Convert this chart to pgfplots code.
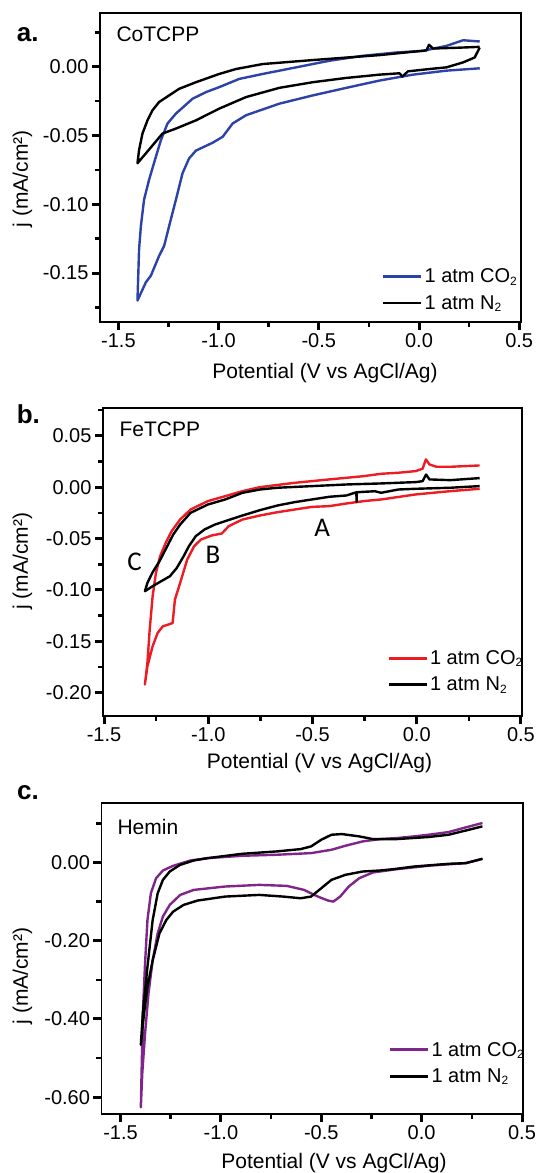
\documentclass[border=0pt]{standalone}
\usepackage{fontspec}
\setmainfont{Liberation Sans}
\newfontfamily\annfont{Carlito}
\usepackage{pgfplots}
\pgfplotsset{compat=1.18}

\definecolor{coblue}{RGB}{44,66,168}
\definecolor{fered}{RGB}{237,28,36}
\definecolor{hempurple}{RGB}{128,38,138}

\newcommand{\sub}[1]{\raisebox{-0.12em}{\fontsize{12}{13}\selectfont #1}}

\pgfplotsset{
  cv/.style={
    scale only axis,
    axis line style={line width=1.8pt},
    tick align=outside,
    xtick pos=bottom, ytick pos=left,
    major tick length=8pt, minor tick length=5pt,
    major tick style={line width=3pt, black},
    minor tick style={line width=2.6pt, black},
    xtick={-1.5,-1.0,-0.5,0,0.5},
    minor xtick={-1.25,-0.75,-0.25,0.25},
    scaled ticks=false,
    /pgf/number format/assume math mode=true,
    tick label style={font=\fontsize{20}{24}\selectfont},
    xticklabel style={/pgf/number format/.cd, fixed, fixed zerofill, precision=1},
    yticklabel style={/pgf/number format/.cd, fixed, fixed zerofill, precision=2},
    label style={font=\fontsize{21}{25}\selectfont},
    xlabel={Potential (V vs AgCl/Ag)},
    ylabel={j (mA/cm²)},
    legend cell align=left,
    legend style={draw=none, fill=none, font=\fontsize{20}{24}\selectfont,
      inner sep=0pt, row sep=7pt, anchor=south west},
    legend image code/.code={\draw[#1, line width=2.8pt] (0pt,0pt) -- (38pt,0pt);},
    every axis plot/.append style={line width=2.4pt, line join=round},
  }
}

\begin{document}
\begin{tikzpicture}[x=1pt,y=1pt]

% ---------- a. CoTCPP ----------
\begin{axis}[cv, at={(100pt,-13pt)}, anchor=north west,
  width=421pt, height=309pt,
  xmin=-1.592, xmax=0.509, ymin=-0.1856, ymax=0.039,
  ytick={-0.15,-0.10,-0.05,0},
  minor ytick={-0.175,-0.125,-0.075,-0.025,0.025},
  xlabel style={at={(rel axis cs:0.5,0)}, anchor=center, xshift=14.5pt, yshift=-51pt},
  ylabel style={at={([xshift=-77.5pt]rel axis cs:0,0.464)}, anchor=center},
  legend style={at={(rel axis cs:0.669,0.03)}},
]
\addplot[coblue] coordinates {
 (0.303,-0.0012) (0.137,-0.0029) (-0.03,-0.0058) (-0.197,-0.0101) (-0.363,-0.0154)
 (-0.53,-0.0209) (-0.697,-0.0269) (-0.863,-0.0353) (-0.93,-0.0413) (-0.98,-0.051)
 (-1.03,-0.0553) (-1.113,-0.061) (-1.147,-0.0666) (-1.18,-0.0774) (-1.213,-0.0966)
 (-1.247,-0.1159) (-1.272,-0.1303) (-1.297,-0.1375) (-1.338,-0.1519) (-1.363,-0.1567)
 (-1.405,-0.170)
 (-1.397,-0.1327) (-1.388,-0.1159) (-1.372,-0.0966) (-1.347,-0.0822) (-1.313,-0.0654)
 (-1.288,-0.0534) (-1.255,-0.0413) (-1.213,-0.0341) (-1.13,-0.0233) (-1.063,-0.0185)
 (-0.997,-0.0149) (-0.897,-0.0089) (-0.78,-0.0053) (-0.613,-0.0005) (-0.447,0.0043)
 (-0.28,0.0079) (-0.113,0.0103) (0.02,0.0115) (0.137,0.0151) (0.22,0.0192) (0.303,0.0183)
};
\addlegendentry{1 atm CO\sub{2}}
\addplot[black] coordinates {
 (0.303,0.0144) (0.2,0.0138) (0.07,0.0132) (0.05,0.0159) (0.037,0.0118) (-0.197,0.0084)
 (-0.53,0.0048) (-0.78,0.0019) (-0.913,-0.0017) (-0.997,-0.0053) (-1.113,-0.0113)
 (-1.197,-0.0161) (-1.297,-0.0257) (-1.33,-0.0317) (-1.355,-0.039) (-1.38,-0.0486)
 (-1.397,-0.0606) (-1.405,-0.0702)
 (-1.363,-0.063) (-1.28,-0.0486) (-1.213,-0.045) (-1.113,-0.039) (-0.997,-0.0305)
 (-0.863,-0.0221) (-0.697,-0.0154) (-0.53,-0.0113) (-0.363,-0.0082) (-0.197,-0.0058)
 (-0.097,-0.0048) (-0.083,-0.0072) (-0.055,-0.0034) (0.053,-0.0017) (0.137,-0.0005)
 (0.22,0.0031) (0.278,0.0067) (0.303,0.0139)
};
\addlegendentry{1 atm N\sub{2}}
\node[anchor=west, font=\fontsize{21}{25}\selectfont] at ([xshift=13pt,yshift=-21pt]rel axis cs:0,1) {CoTCPP};
\end{axis}

% ---------- b. FeTCPP ----------
\begin{axis}[cv, at={(103pt,-408pt)}, anchor=north west,
  width=419pt, height=308pt,
  xmin=-1.505, xmax=0.505, ymin=-0.2227, ymax=0.077,
  ytick={-0.20,-0.15,-0.10,-0.05,0,0.05},
  minor ytick={-0.175,-0.125,-0.075,-0.025,0.025,0.075},
  xlabel style={at={(rel axis cs:0.5,0)}, anchor=center, xshift=7pt, yshift=-47pt},
  ylabel style={at={([xshift=-80.5pt]rel axis cs:0,0.503)}, anchor=center},
  legend style={at={(rel axis cs:0.678,0.07)}},
]
\addplot[fered] coordinates {
 (0.302,-0.0016) (0.161,-0.0039) (-0.005,-0.0071) (-0.171,-0.012) (-0.25,-0.0135)
 (-0.337,-0.0159) (-0.42,-0.0185) (-0.503,-0.0192) (-0.586,-0.0218) (-0.669,-0.0244)
 (-0.752,-0.0276) (-0.836,-0.0315) (-0.902,-0.038) (-0.935,-0.0451) (-0.985,-0.0471)
 (-1.035,-0.051) (-1.068,-0.0575) (-1.101,-0.0705) (-1.135,-0.0932) (-1.16,-0.1094)
 (-1.171,-0.1322) (-1.193,-0.1338) (-1.218,-0.1354) (-1.243,-0.1419) (-1.267,-0.1549)
 (-1.292,-0.1744) (-1.304,-0.192)
 (-1.292,-0.171) (-1.281,-0.1387) (-1.267,-0.1062) (-1.251,-0.0834) (-1.231,-0.0672)
 (-1.204,-0.0542) (-1.176,-0.0429) (-1.135,-0.0315) (-1.085,-0.0218) (-1.002,-0.0136)
 (-0.919,-0.0088) (-0.836,-0.0039) (-0.752,0) (-0.586,0.0042) (-0.42,0.0075)
 (-0.254,0.0107) (-0.171,0.013) (-0.088,0.014) (-0.005,0.0156) (0.028,0.0179)
 (0.044,0.027) (0.061,0.0221) (0.095,0.0198) (0.161,0.0198) (0.302,0.0211)
};
\addlegendentry{1 atm CO\sub{2}}
\addplot[black] coordinates {
 (0.302,0.001) (0.161,-0.0006) (-0.005,-0.0016) (-0.088,-0.0023) (-0.171,-0.0055)
 (-0.2,-0.004) (-0.25,-0.0045) (-0.288,-0.005) (-0.288,-0.0145) (-0.29,-0.005)
 (-0.337,-0.0081) (-0.42,-0.0094) (-0.503,-0.012) (-0.586,-0.0146) (-0.669,-0.0179)
 (-0.752,-0.0224) (-0.836,-0.0276) (-0.919,-0.0331) (-0.968,-0.0364) (-1.018,-0.0412)
 (-1.06,-0.0477) (-1.093,-0.0575) (-1.118,-0.0672) (-1.151,-0.0786) (-1.184,-0.0867)
 (-1.234,-0.0925) (-1.267,-0.0964) (-1.304,-0.1013)
 (-1.292,-0.0932) (-1.267,-0.0828) (-1.234,-0.0721) (-1.201,-0.0591) (-1.168,-0.0461)
 (-1.135,-0.0364) (-1.085,-0.025) (-1.002,-0.0169) (-0.919,-0.012) (-0.836,-0.0055)
 (-0.752,-0.0023) (-0.669,-0.0006) (-0.503,0.001) (-0.337,0.0026) (-0.171,0.0036)
 (-0.005,0.0049) (0.028,0.0058) (0.045,0.0123) (0.061,0.0075) (0.161,0.0068) (0.302,0.0088)
};
\addlegendentry{1 atm N\sub{2}}
\node[anchor=west, font=\fontsize{21}{25}\selectfont] at ([xshift=13pt,yshift=-21pt]rel axis cs:0,1) {FeTCPP};
\node[font=\annfont\fontsize{27}{30}\selectfont] at (axis cs:-0.453,-0.0396) {A};
\node[font=\annfont\fontsize{27}{30}\selectfont] at (axis cs:-0.977,-0.0656) {B};
\node[font=\annfont\fontsize{27}{30}\selectfont] at (axis cs:-1.354,-0.073) {C};
\end{axis}

% ---------- c. Hemin ----------
\begin{axis}[cv, at={(101.5pt,-803pt)}, anchor=north west,
  width=421.5pt, height=311pt,
  xmin=-1.595, xmax=0.505, ymin=-0.643, ymax=0.152,
  ytick={-0.60,-0.40,-0.20,0},
  minor ytick={-0.5,-0.3,-0.1,0.1},
  xlabel style={at={(rel axis cs:0.5,0)}, anchor=center, xshift=21.75pt, yshift=-49.3pt},
  ylabel style={at={([xshift=-79pt]rel axis cs:0,0.444)}, anchor=center},
  legend style={at={(rel axis cs:0.681,0.09)}},
]
\addplot[hempurple] coordinates {
 (0.303,0.1009) (0.22,0.0897) (0.135,0.0778) (0.049,0.0718) (-0.037,0.0667)
 (-0.123,0.0624) (-0.208,0.0598) (-0.294,0.0538) (-0.38,0.0427) (-0.449,0.0325)
 (-0.551,0.0239) (-0.723,0.0197) (-0.894,0.0171) (-1.066,0.0111) (-1.152,0.0051)
 (-1.238,-0.0085) (-1.289,-0.0205) (-1.323,-0.0402) (-1.349,-0.0786) (-1.366,-0.147)
 (-1.378,-0.258) (-1.389,-0.386) (-1.399,-0.626)
 (-1.392,-0.540) (-1.378,-0.4376) (-1.361,-0.335) (-1.34,-0.25) (-1.315,-0.181)
 (-1.289,-0.138) (-1.255,-0.1085) (-1.203,-0.0829) (-1.135,-0.0701) (-0.98,-0.0615)
 (-0.809,-0.0573) (-0.672,-0.0598) (-0.586,-0.0701) (-0.517,-0.0872) (-0.466,-0.0974)
 (-0.44,-0.1) (-0.406,-0.0872) (-0.363,-0.0615) (-0.311,-0.0402) (-0.243,-0.0256)
 (-0.123,-0.0171) (0.049,-0.0077) (0.22,-0.0017) (0.303,0.0094)
};
\addlegendentry{1 atm CO\sub{2}}
\addplot[black] coordinates {
 (0.303,0.0923) (0.135,0.0709) (0.032,0.065) (-0.123,0.0598) (-0.243,0.0598)
 (-0.311,0.0667) (-0.397,0.0726) (-0.449,0.0709) (-0.5,0.0581) (-0.551,0.041)
 (-0.603,0.0342) (-0.723,0.0282) (-0.894,0.0222) (-1.066,0.0111) (-1.135,0.0051)
 (-1.203,-0.006) (-1.255,-0.0231) (-1.289,-0.0444) (-1.315,-0.0786) (-1.34,-0.147)
 (-1.366,-0.2667) (-1.389,-0.386) (-1.399,-0.466)
 (-1.383,-0.386) (-1.366,-0.318) (-1.34,-0.25) (-1.306,-0.181) (-1.272,-0.147)
 (-1.238,-0.1256) (-1.186,-0.1085) (-1.117,-0.0974) (-0.98,-0.0872) (-0.809,-0.0829)
 (-0.689,-0.0872) (-0.603,-0.0915) (-0.551,-0.0872) (-0.5,-0.0658) (-0.449,-0.0444)
 (-0.38,-0.0316) (-0.294,-0.0231) (-0.208,-0.0205) (-0.14,-0.0171) (-0.037,-0.0103)
 (0.135,-0.0034) (0.22,-0.0017) (0.303,0.0094)
};
\addlegendentry{1 atm N\sub{2}}
\node[anchor=west, font=\fontsize{21}{25}\selectfont] at ([xshift=12.5pt,yshift=-23.7pt]rel axis cs:0,1) {Hemin};
\end{axis}

% panel letters
\node[anchor=base west, font=\bfseries\fontsize{26}{30}\selectfont, inner sep=0pt] at (16.7,-41.7) {a.};
\node[anchor=base west, font=\bfseries\fontsize{26}{30}\selectfont, inner sep=0pt] at (16.6,-423.3) {b.};
\node[anchor=base west, font=\bfseries\fontsize{26}{30}\selectfont, inner sep=0pt] at (17,-799) {c.};

\pgfresetboundingbox
\path[use as bounding box] (0,0) rectangle (543,-1173);
\end{tikzpicture}
\end{document}
